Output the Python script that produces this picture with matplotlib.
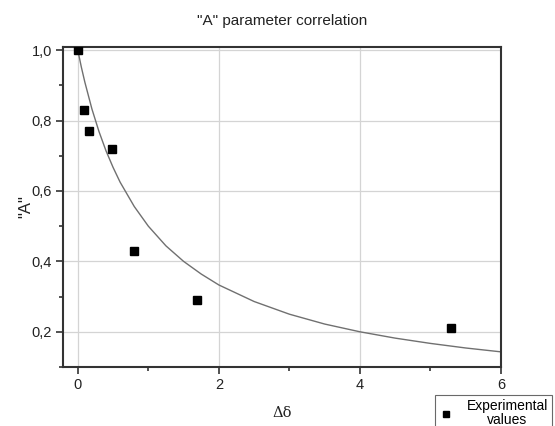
import matplotlib
matplotlib.use("Agg")
import matplotlib.pyplot as plt
from matplotlib.ticker import MultipleLocator, FuncFormatter

plt.rcParams['font.family'] = ['Liberation Sans', 'DejaVu Sans']

# Experimental points
exp_x = [0.0, 0.085, 0.16, 0.48, 0.8, 1.69, 5.29]
exp_y = [1.0, 0.83, 0.77, 0.72, 0.43, 0.29, 0.21]

# Fitted curve
fit_x = [0.0, 0.05, 0.1, 0.2, 0.3, 0.4, 0.5, 0.6, 0.8, 1.0, 1.25, 1.5, 1.75, 2.0,
         2.5, 3.0, 3.5, 4.0, 4.5, 5.0, 5.5, 6.0]
fit_y = [1.0, 0.952, 0.909, 0.833, 0.769, 0.714, 0.667, 0.625, 0.556, 0.5, 0.444,
         0.4, 0.364, 0.333, 0.286, 0.25, 0.222, 0.2, 0.182, 0.167, 0.154, 0.143]

title = '"A" parameter correlation'
xlabel = 'Δδ'
ylabel = '"A"'
legend_label = 'Experimental\nvalues'

fig = plt.figure(figsize=(5.55, 4.26), dpi=100)
ax = fig.add_axes([0.1135, 0.1385, 0.7892, 0.7512])

ax.plot(fit_x, fit_y, color='#707070', lw=1.0, zorder=2)
ax.plot(exp_x, exp_y, 's', color='black', ms=6, ls='none', zorder=3,
        label=legend_label)

ax.set_xlim(-0.21, 6.0)
ax.set_ylim(0.1, 1.009)
ax.xaxis.set_major_locator(MultipleLocator(2))
ax.xaxis.set_minor_locator(MultipleLocator(1))
ax.yaxis.set_major_locator(MultipleLocator(0.2))
ax.yaxis.set_minor_locator(MultipleLocator(0.1))
ax.yaxis.set_major_formatter(FuncFormatter(lambda v, p: f'{v:.1f}'.replace('.', ',')))
ax.xaxis.set_major_formatter(FuncFormatter(lambda v, p: f'{v:.0f}'))

ax.grid(True, which='major', color='#d4d4d4', lw=0.9, zorder=0)
ax.set_axisbelow(True)
for s in ax.spines.values():
    s.set_linewidth(1.5)
    s.set_color('#333333')
ax.tick_params(which='major', direction='out', length=5, width=1.2, color='#333333',
               labelsize=10.5, labelcolor='#222222', pad=3)
ax.tick_params(which='minor', direction='out', length=3, width=1.2, color='#333333')

ax.set_title(title, fontsize=11, pad=16, color='#222222')
ax.set_ylabel(ylabel, fontsize=12, color='#222222', labelpad=-1)
ax.set_xlabel(xlabel, fontsize=10.5, family='DejaVu Serif', color='#222222', labelpad=10)

leg = fig.legend(loc='upper left', bbox_to_anchor=(428/555, 1 - 388/426),
                 frameon=True, fancybox=False, edgecolor='#444444', fontsize=10,
                 handlelength=1.0, handletextpad=1.0, borderpad=0.3,
                 labelspacing=0.2, markerscale=0.75)
leg.get_frame().set_linewidth(0.8)
for t in leg.get_texts():
    t.set_multialignment('center')
    t.set_linespacing(1.0)

fig.savefig('out.png', dpi=100)
